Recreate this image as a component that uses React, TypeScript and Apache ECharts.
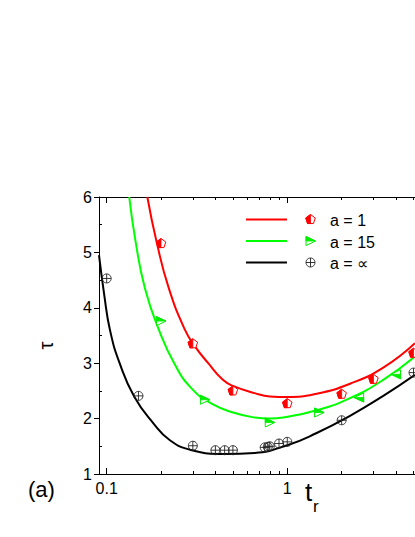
import React, { useEffect, useRef } from 'react';
import * as echarts from 'echarts';

const FONT = "'Liberation Sans', Arial, Helvetica, sans-serif";
const RED = '#ff0000';
const GREEN = '#00ee00';
const BLACK = '#000000';

// Curves (fits): t_r and tau
const redCurveT = [0.168, 0.189, 0.221, 0.2715, 0.309, 0.365, 0.44, 0.5, 0.66, 0.8, 1.0, 1.455, 2.225, 3.4, 5.09];
const redCurveTau = [6.0, 5.19, 4.35, 3.6, 3.3, 3.0, 2.7, 2.59, 2.46, 2.4, 2.39, 2.45, 2.63, 2.92, 3.36];

const greenCurveT = [0.1334, 0.1447, 0.163, 0.1947, 0.239, 0.296, 0.381, 0.513, 0.66, 0.8, 0.95, 1.455, 2.225, 3.4, 5.09];
const greenCurveTau = [6.0, 5.19, 4.35, 3.6, 2.97, 2.54, 2.27, 2.1, 2.02, 2.0, 2.02, 2.15, 2.37, 2.7, 3.12];

const blackCurveT = [0.0907, 0.097, 0.1043, 0.118, 0.142, 0.181, 0.224, 0.296, 0.45, 0.66, 1.0, 1.455, 2.225, 3.4, 5.09];
const blackCurveTau = [4.95, 4.23, 3.6, 3.0, 2.4, 1.92, 1.61, 1.43, 1.36, 1.38, 1.52, 1.74, 2.05, 2.41, 2.79];

// Measured points
const redMarkT = [0.2, 0.3, 0.5, 1, 2, 3, 5];
const redMarkTau = [5.16, 3.35, 2.5, 2.27, 2.44, 2.71, 3.18];

const greenMarkT = [0.2, 0.35, 0.8, 1.5, 2.5, 4];
const greenMarkTau = [3.76, 2.34, 1.93, 2.11, 2.38, 2.8];
const greenMarkDir = [0, 0, 0, 0, 180, 180];

const blackMarkT = [0.1, 0.15, 0.3, 0.4, 0.45, 0.5, 0.75, 0.78, 0.8, 0.9, 1, 2, 5];
const blackMarkTau = [4.53, 2.41, 1.51, 1.43, 1.43, 1.43, 1.48, 1.49, 1.5, 1.55, 1.58, 1.97, 2.83];

// Axes
const xMajorTicks = [0.1, 1];
const xTickLabels = ['0.1', '1'];
const xMinorTicks = [0.2, 0.3, 0.4, 0.5, 0.6, 0.7, 0.8, 0.9, 2, 3, 4, 5];
const xMinT = 0.0907;
const xMaxT = 5.095;
const yMinorTicks = [1.5, 2.5, 3.5, 4.5, 5.5];

const legendLabels = ['a = 1', 'a = 15', 'a = \u221D'];

const L = (v: number) => Math.log10(v);

function pentagonPts(r: number) {
  const pts: number[][] = [];
  for (let i = 0; i < 5; i++) {
    const a = -Math.PI / 2 + (i * 2 * Math.PI) / 5;
    pts.push([r * Math.cos(a), r * Math.sin(a)]);
  }
  return pts;
}

function markerChildren(kind: string, color: string): any[] {
  if (kind === 'pent') {
    const r = 5;
    const p = pentagonPts(r);
    const half = [[0, -r], p[4], p[3], [0, r * Math.sin((54 * Math.PI) / 180)]];
    return [
      { type: 'polygon', shape: { points: p }, style: { fill: '#fff', stroke: color, lineWidth: 1 } },
      { type: 'polygon', shape: { points: half }, style: { fill: color, stroke: color, lineWidth: 0.8 } },
    ];
  }
  if (kind === 'tri') {
    const full = [[-4.5, -4.5], [5, 0], [-4.5, 4.5]];
    const half = [[-4.5, -4.5], [5, 0], [-4.5, 0]];
    return [
      { type: 'polygon', shape: { points: full }, style: { fill: '#fff', stroke: color, lineWidth: 1 } },
      { type: 'polygon', shape: { points: half }, style: { fill: color, stroke: color, lineWidth: 0.8 } },
    ];
  }
  const r = 4.5;
  return [
    { type: 'circle', shape: { cx: 0, cy: 0, r }, style: { fill: 'rgba(0,0,0,0)', stroke: '#222', lineWidth: 0.9 } },
    { type: 'line', shape: { x1: -r, y1: 0, x2: r, y2: 0 }, style: { stroke: '#222', lineWidth: 0.9 } },
    { type: 'line', shape: { x1: 0, y1: -r, x2: 0, y2: r }, style: { stroke: '#222', lineWidth: 0.9 } },
  ];
}

function curveSeries(ts: number[], taus: number[], color: string) {
  return {
    type: 'line',
    xAxisIndex: 0,
    yAxisIndex: 0,
    data: ts.map((t, i) => [L(t), taus[i]]),
    smooth: 0.5,
    symbol: 'none',
    clip: true,
    z: 2,
    lineStyle: { color, width: 2 },
  };
}

function markerSeries(ts: number[], taus: number[], dirs: number[] | null, kind: string, color: string) {
  return {
    type: 'custom',
    xAxisIndex: 0,
    yAxisIndex: 0,
    z: 3,
    clip: true,
    data: ts.map((t, i) => [L(t), taus[i], dirs ? dirs[i] : 0]),
    encode: { x: 0, y: 1 },
    renderItem: (params: any, api: any) => {
      const p = api.coord([api.value(0), api.value(1)]);
      return {
        type: 'group',
        x: p[0],
        y: p[1],
        rotation: (api.value(2) * Math.PI) / 180,
        children: markerChildren(kind, color),
      };
    },
  };
}

export default function App() {
  const ref = useRef<HTMLDivElement>(null);
  useEffect(() => {
    if (!ref.current) return;
    const chart = echarts.init(ref.current, undefined, { renderer: 'svg' });
    const xMin = L(xMinT);
    const xMax = L(xMaxT);
    const labelFor = (v: number) => {
      for (let i = 0; i < xMajorTicks.length; i++) {
        if (Math.abs(L(xMajorTicks[i]) - v) < 1e-6) return xTickLabels[i];
      }
      return '';
    };
    const axisLineStyle = { color: '#000', width: 1 };
    const baseX = {
      type: 'value',
      min: xMin,
      max: xMax,
      splitLine: { show: false },
    };
    const legendRows = [
      { y: 219.5, color: RED, kind: 'pent', label: legendLabels[0] },
      { y: 241, color: '#00ff00', kind: 'tri', label: legendLabels[1] },
      { y: 262.5, color: BLACK, kind: 'circ', label: legendLabels[2] },
    ];
    const graphics: any[] = [];
    legendRows.forEach((r) => {
      graphics.push({
        type: 'line',
        shape: { x1: 246, y1: r.y, x2: 287, y2: r.y },
        style: { stroke: r.color, lineWidth: 2 },
        z: 10,
      });
      graphics.push({
        type: 'group',
        x: 310.5,
        y: r.y,
        z: 10,
        children: markerChildren(r.kind, r.kind === 'tri' ? GREEN : r.color),
      });
      graphics.push({
        type: 'text',
        x: 330,
        y: r.y + 1,
        z: 10,
        style: { text: r.label, fill: '#000', font: `16px ${FONT}`, textAlign: 'left', textVerticalAlign: 'middle' },
      });
    });
    graphics.push({
      type: 'text', x: 305, y: 491.5, z: 10,
      style: { text: 't', fill: '#000', font: `26px ${FONT}`, textAlign: 'left', textVerticalAlign: 'middle' },
    });
    graphics.push({
      type: 'text', x: 313, y: 506, z: 10,
      style: { text: 'r', fill: '#000', font: `17px ${FONT}`, textAlign: 'left', textVerticalAlign: 'middle' },
    });
    graphics.push({
      type: 'text', x: 28, y: 489, z: 10,
      style: { text: '(a)', fill: '#000', font: `22px ${FONT}`, textAlign: 'left', textVerticalAlign: 'middle' },
    });
    graphics.push({
      type: 'text', x: 46, y: 345.5, z: 10, rotation: Math.PI / 2,
      style: { text: '\u03C4', fill: '#000', font: `20px ${FONT}`, textAlign: 'center', textVerticalAlign: 'middle' },
    });

    chart.setOption({
      animation: false,
      backgroundColor: '#fff',
      grid: { left: 99, top: 197, right: 0, bottom: 63, containLabel: false, outerBoundsMode: 'none' },
      xAxis: [
        {
          ...baseX,
          position: 'bottom',
          axisLine: { onZero: false, lineStyle: axisLineStyle },
          axisTick: { inside: true, length: 6, customValues: xMajorTicks.map(L), lineStyle: axisLineStyle },
          axisLabel: {
            customValues: xMajorTicks.map(L),
            formatter: (v: number) => labelFor(v),
            color: '#000',
            fontSize: 16,
            fontFamily: FONT,
            margin: 6,
          },
        },
        {
          ...baseX,
          position: 'bottom',
          axisLine: { show: false, onZero: false },
          axisTick: { inside: true, length: 3, customValues: xMinorTicks.map(L), lineStyle: axisLineStyle },
          axisLabel: { show: false },
        },
        {
          ...baseX,
          position: 'top',
          axisLine: { onZero: false, lineStyle: axisLineStyle },
          axisTick: { inside: true, length: 6, customValues: xMajorTicks.map(L), lineStyle: axisLineStyle },
          axisLabel: { show: false },
        },
        {
          ...baseX,
          position: 'top',
          axisLine: { show: false, onZero: false },
          axisTick: { inside: true, length: 3, customValues: xMinorTicks.map(L), lineStyle: axisLineStyle },
          axisLabel: { show: false },
        },
      ],
      yAxis: [
        {
          type: 'value',
          position: 'left',
          min: 1,
          max: 6,
          interval: 1,
          splitLine: { show: false },
          axisLine: { show: true, onZero: false, lineStyle: axisLineStyle },
          axisTick: { inside: false, length: 5, lineStyle: axisLineStyle },
          axisLabel: { color: '#000', fontSize: 16, fontFamily: FONT, margin: 7 },
        },
        {
          type: 'value',
          position: 'left',
          min: 1,
          max: 6,
          interval: 1,
          splitLine: { show: false },
          axisLine: { show: false, onZero: false },
          axisTick: { inside: true, length: 3, customValues: yMinorTicks, lineStyle: axisLineStyle },
          axisLabel: { show: false },
        },
      ],
      series: [
        curveSeries(redCurveT, redCurveTau, RED),
        curveSeries(greenCurveT, greenCurveTau, '#00ff00'),
        curveSeries(blackCurveT, blackCurveTau, BLACK),
        markerSeries(redMarkT, redMarkTau, null, 'pent', RED),
        markerSeries(greenMarkT, greenMarkTau, greenMarkDir, 'tri', GREEN),
        markerSeries(blackMarkT, blackMarkTau, null, 'circ', BLACK),
      ],
      graphic: graphics,
    });
    return () => chart.dispose();
  }, []);
  return (
    <div
      ref={ref}
      style={{ position: 'absolute', left: 0, top: 0, width: 415, height: 537, overflow: 'hidden' }}
    />
  );
}
